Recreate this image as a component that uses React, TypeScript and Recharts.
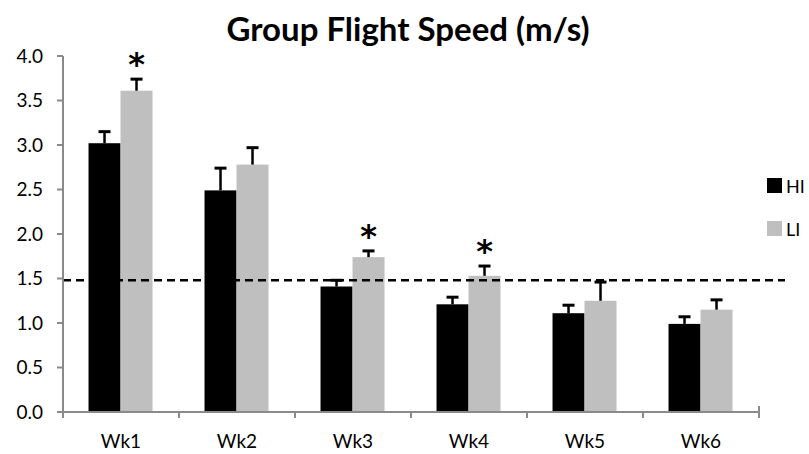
import {
  BarChart,
  Bar,
  XAxis,
  YAxis,
  ReferenceLine,
  LabelList,
} from "recharts";

const weeks = ["Wk1", "Wk2", "Wk3", "Wk4", "Wk5", "Wk6"];
const hi = [3.02, 2.49, 1.41, 1.21, 1.11, 0.99];
const hiErr = [0.13, 0.25, 0.07, 0.08, 0.09, 0.08];
const li = [3.61, 2.78, 1.74, 1.53, 1.25, 1.15];
const liErr = [0.13, 0.19, 0.07, 0.11, 0.21, 0.11];
const sig = [true, false, true, true, false, false];
const yTicks = [0, 0.5, 1, 1.5, 2, 2.5, 3, 3.5, 4];
const threshold = 1.48;

const data = weeks.map((wk, i) => ({
  wk,
  HI: hi[i],
  hiErr: hiErr[i],
  LI: li[i],
  liErr: liErr[i],
}));

const FONT = "Lato, 'Open Sans', sans-serif";
const AXIS = "#8a8a8a";

// bar with a one-sided (upward) error whisker
const barWithErr = (errKey: string) => (props: any) => {
  const { x, y, width, height, fill, payload, value } = props;
  const v = Array.isArray(value) ? value[1] - value[0] : value;
  const perUnit = v ? height / v : 0;
  const e = (payload[errKey] || 0) * perUnit;
  const cx = x + width / 2;
  return (
    <g>
      <rect x={x} y={y} width={width} height={height} fill={fill} />
      <line x1={cx} y1={y} x2={cx} y2={y - e} stroke="#000" strokeWidth={2.5} />
      <line x1={cx - 6} y1={y - e} x2={cx + 6} y2={y - e} stroke="#000" strokeWidth={3} />
    </g>
  );
};

const Star = (props: any) => {
  const { x, y, width, height, value, index } = props;
  if (!sig[index]) return null;
  const perUnit = value ? height / value : 0;
  const top = y - liErr[index] * perUnit;
  return (
    <text
      x={x + width / 2}
      y={top - 4}
      textAnchor="middle"
      fontSize={32}
      fontWeight={700}
      fontFamily="'DejaVu Sans', sans-serif"
      fill="#000"
    >
      *
    </text>
  );
};

const XTick = (props: any) => {
  const { x, y, payload, index, visibleTicksCount, width } = props;
  const band = width && visibleTicksCount ? width / visibleTicksCount : 116;
  const half = band / 2;
  return (
    <g>
      <line x1={x - half} y1={y} x2={x - half} y2={y + 6} stroke={AXIS} strokeWidth={2} />
      {index === visibleTicksCount - 1 && (
        <line x1={x + half} y1={y - 6} x2={x + half} y2={y + 6} stroke={AXIS} strokeWidth={2} />
      )}
      <text x={x} y={y + 36} textAnchor="middle" fontSize={19} fontFamily={FONT} fill="#000">
        {payload.value}
      </text>
    </g>
  );
};

const legendItems = [
  { name: "HI", color: "#000000" },
  { name: "LI", color: "#bfbfbf" },
];

export default function App() {
  return (
    <div
      style={{
        position: "absolute",
        left: 0,
        top: 0,
        width: 809,
        height: 454,
        background: "#fff",
      }}
    >
      <div
        style={{
          position: "absolute",
          left: 0,
          top: 8,
          width: 816,
          textAlign: "center",
          fontFamily: FONT,
          fontWeight: 700,
          fontSize: 33,
          color: "#000",
        }}
      >
        Group Flight Speed (m/s)
      </div>
      <div
        style={{
          position: "absolute",
          left: 767,
          top: 164,
          fontFamily: FONT,
          fontSize: 18,
          color: "#000",
        }}
      >
        {legendItems.map((it) => (
          <div key={it.name} style={{ display: "flex", alignItems: "center", height: 43 }}>
            <span
              style={{
                width: 15,
                height: 15,
                background: it.color,
                display: "inline-block",
                marginRight: 4,
              }}
            />
            {it.name}
          </div>
        ))}
      </div>
      <BarChart
        width={809}
        height={454}
        data={data}
        margin={{ top: 56, right: 50, bottom: 0, left: 8 }}
        barCategoryGap="22%"
        barGap={0}
      >
        <XAxis
          dataKey="wk"
          axisLine={{ stroke: AXIS, strokeWidth: 2 }}
          tickLine={false}
          tickSize={0}
          tickMargin={0}
          tick={<XTick />}
          height={42}
        />
        <YAxis
          domain={[0, 4]}
          ticks={yTicks}
          interval={0}
          width={55}
          axisLine={{ stroke: AXIS, strokeWidth: 2 }}
          tickLine={{ stroke: AXIS, strokeWidth: 2 }}
          tickSize={6}
          tickMargin={14}
          tickFormatter={(v: number) => v.toFixed(1)}
          tick={{ fontSize: 19, fontFamily: FONT, fill: "#000" }}
        />
        <ReferenceLine
          y={threshold}
          stroke="#000"
          strokeWidth={2.5}
          strokeDasharray="8 5"
          ifOverflow="visible"
          shape={(p: any) => (
            <line
              x1={p.x1}
              y1={p.y1}
              x2={p.x2 + 26}
              y2={p.y2}
              stroke="#000"
              strokeWidth={2.5}
              strokeDasharray="8 5"
            />
          )}
        />
        <Bar
          dataKey="HI"
          fill="#000000"
          isAnimationActive={false}
          shape={barWithErr("hiErr")}
        />
        <Bar
          dataKey="LI"
          fill="#bfbfbf"
          isAnimationActive={false}
          shape={barWithErr("liErr")}
        >
          <LabelList dataKey="LI" content={<Star />} />
        </Bar>
      </BarChart>
    </div>
  );
}
